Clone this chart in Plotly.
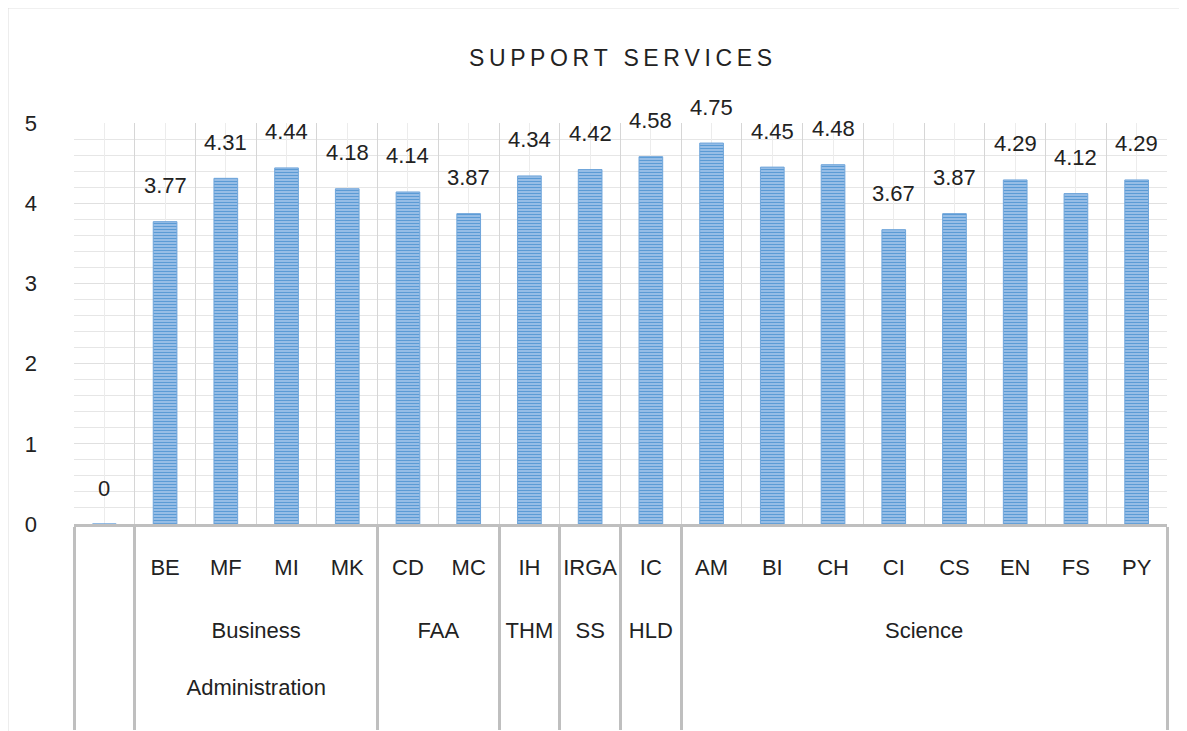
import plotly.graph_objects as go

faculties = [" ",
             "Business Administration", "Business Administration",
             "Business Administration", "Business Administration",
             "FAA", "FAA", "THM", "SS", "HLD",
             "Science", "Science", "Science", "Science",
             "Science", "Science", "Science", "Science"]
programs = [" ", "BE", "MF", "MI", "MK", "CD", "MC", "IH", "IRGA", "IC",
            "AM", "BI", "CH", "CI", "CS", "EN", "FS", "PY"]
scores = [0, 3.77, 4.31, 4.44, 4.18, 4.14, 3.87, 4.34, 4.42, 4.58,
          4.75, 4.45, 4.48, 3.67, 3.87, 4.29, 4.12, 4.29]

title_text = "\u2009".join("SUPPORT SERVICES")

FONT = "Liberation Sans, Arial, sans-serif"
TXT = "#222222"

# group labels sit two text lines below the programme row, wrapped like Excel;
# an invisible trailing line lets the dividers run down to the chart bottom
PAD = "<br><span style='color:white'>.</span>"
group_labels = ["<br><br>" + f.replace(" ", "<br><br>") + PAD for f in faculties]

fig = go.Figure()
fig.add_trace(go.Bar(
    x=[group_labels, programs],
    y=scores,
    width=0.39,
    marker=dict(
        color="#a4c6ea",
        line=dict(color="#6fa5da", width=1),
        pattern=dict(shape="-", fgcolor="#5b9bd5", bgcolor="#a9c9ec",
                     size=3, solidity=0.5, fillmode="replace"),
    ),
    hoverinfo="y",
))

# helper trace so the centre-line grid axis gets drawn
fig.add_trace(go.Scatter(
    x=list(range(len(programs))), y=scores, mode="none",
    xaxis="x2", hoverinfo="skip", showlegend=False,
))

for i, v in enumerate(scores):
    fig.add_annotation(
        x=i, y=v, text=f"{v:g}", showarrow=False,
        yanchor="middle", yshift=36,
        font=dict(size=22, color=TXT, family=FONT),
    )

fig.update_layout(
    width=1187,
    height=731,
    paper_bgcolor="white",
    plot_bgcolor="white",
    font=dict(family=FONT, size=22, color=TXT),
    margin=dict(l=66, r=28, t=115, b=215, autoexpand=False),
    showlegend=False,
    title=dict(text=title_text, x=0.5, xref="paper", xanchor="center",
               y=0.9316, yanchor="middle",
               font=dict(size=23, color=TXT, family=FONT)),
    xaxis=dict(
        type="multicategory",
        showgrid=True,
        gridcolor="#d6d6d6",
        gridwidth=1,
        tickson="boundaries",
        ticks="",
        tickangle=0,
        ticklabelstandoff=22,
        showline=True,
        linecolor="#bfbfbf",
        linewidth=3,
        showdividers=True,
        dividercolor="#bfbfbf",
        dividerwidth=3,
        tickfont=dict(size=22, color=TXT),
        zeroline=False,
        automargin=False,
    ),
    xaxis2=dict(
        overlaying="x",
        range=[-0.5, 17.5],
        tick0=0,
        dtick=1,
        showgrid=True,
        gridcolor="#ececec",
        showticklabels=False,
        ticks="",
        zeroline=False,
        layer="below traces",
        automargin=False,
    ),
    yaxis=dict(
        range=[0, 5],
        dtick=1,
        showgrid=True,
        gridcolor="#e0e0e0",
        minor=dict(dtick=0.2, showgrid=True, gridcolor="#e6e6e6"),
        zeroline=False,
        showline=False,
        ticks="",
        ticklabelstandoff=36,
        tickfont=dict(size=22, color=TXT),
        automargin=False,
    ),
    shapes=[dict(type="rect", xref="paper", yref="paper",
                 x0=-0.0604, x1=1.3, y0=-1, y1=1.287,
                 line=dict(color="#d9d9d9", width=1), layer="below")],
)

fig.write_html("out.html")
